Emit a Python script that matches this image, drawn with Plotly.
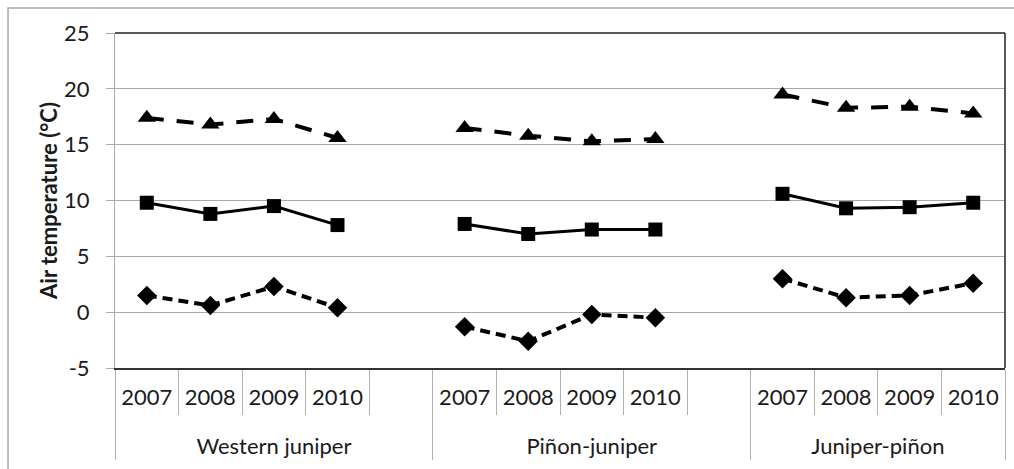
import plotly.graph_objects as go

groups = ["<br>Western juniper"] * 5 + ["<br>Piñon-juniper"] * 5 + ["<br>Juniper-piñon"] * 4
years = ["2007", "2008", "2009", "2010", " ",
         "2007", "2008", "2009", "2010", " ",
         "2007", "2008", "2009", "2010"]

t_max = [17.4, 16.8, 17.3, 15.6, None,
         16.5, 15.8, 15.3, 15.5, None,
         19.5, 18.3, 18.4, 17.8]
t_mean = [9.8, 8.8, 9.5, 7.8, None,
          7.9, 7.0, 7.4, 7.4, None,
          10.6, 9.3, 9.4, 9.8]
t_min = [1.5, 0.6, 2.3, 0.4, None,
         -1.3, -2.6, -0.2, -0.5, None,
         3.0, 1.3, 1.5, 2.6]

y_ticks = [-5, 0, 5, 10, 15, 20, 25]
y_ticktext = ["-5", "0", "5", "10", "15", "20", "25"]

FONT = "Lato"
FS = 22
x = [groups, years]

fig = go.Figure()
fig.add_trace(go.Scatter(x=x, y=t_max, mode="lines+markers", name="Maximum",
                         line=dict(color="black", width=4, dash="17px,13px"),
                         marker=dict(symbol="triangle-up", size=16, color="black"),
                         connectgaps=False))
fig.add_trace(go.Scatter(x=x, y=t_mean, mode="lines+markers", name="Mean",
                         line=dict(color="black", width=3),
                         marker=dict(symbol="square", size=14, color="black"),
                         connectgaps=False))
fig.add_trace(go.Scatter(x=x, y=t_min, mode="lines+markers", name="Minimum",
                         line=dict(color="black", width=4, dash="10px,6px"),
                         marker=dict(symbol="diamond", size=15, color="black"),
                         connectgaps=False))

fig.update_layout(
    width=1014, height=469,
    margin=dict(l=115, r=9, t=33, b=101, autoexpand=False),
    paper_bgcolor="white", plot_bgcolor="white",
    showlegend=False,
    font=dict(family=FONT, size=FS, color="#1a1a1a"),
)
fig.update_xaxes(
    type="multicategory", automargin=False,
    range=[-0.5, len(years) - 0.5],
    tickangle=0,
    showline=True, linecolor="#333333", linewidth=1.5,
    ticks="outside", tickson="boundaries", ticklen=45, tickcolor="#b0b0b0", tickwidth=1,
    showdividers=True, dividercolor="#b0b0b0", dividerwidth=1,
    ticklabelstandoff=9,
    showgrid=False,
    tickfont=dict(family=FONT, size=FS, color="#1a1a1a"),
)
fig.update_yaxes(
    range=[-5, 25], tickvals=y_ticks, ticktext=y_ticktext, automargin=False,
    showgrid=True, gridcolor="#a8a8a8", gridwidth=1,
    zeroline=False,
    showline=True, linecolor="#a8a8a8", linewidth=1,
    ticks="outside", ticklen=8, tickcolor="#a8a8a8",
    ticklabelstandoff=12,
    tickfont=dict(family=FONT, size=FS, color="#1a1a1a"),
    title=dict(text="<b>Air temperature (°C)</b>", font=dict(family=FONT, size=FS, color="#1a1a1a"),
               standoff=0),
)
# plot-area border top/right and outer chart frame
fig.add_shape(type="line", xref="paper", yref="paper", x0=0, x1=1, y0=1, y1=1,
              line=dict(color="#222222", width=1.5))
fig.add_shape(type="line", xref="paper", yref="paper", x0=1, x1=1, y0=0, y1=1,
              line=dict(color="#222222", width=1.5))
fig.add_shape(type="rect", xref="paper", yref="paper", x0=-0.1202, x1=1.03, y0=-0.35, y1=1.0746,
              line=dict(color="#a8a8a8", width=1.5), layer="below")

fig.write_html("out.html", config={"displayModeBar": False},
               post_script="document.body.style.margin='0';")
